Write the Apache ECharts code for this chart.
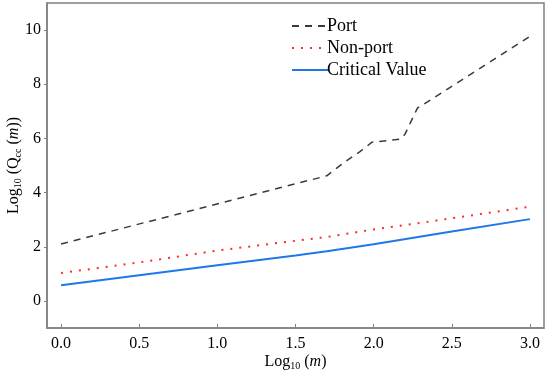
<!DOCTYPE html>
<html>
<head>
<meta charset="utf-8">
<script src="https://cdn.jsdelivr.net/npm/echarts@6/dist/echarts.min.js"></script>
<style>html,body{margin:0;padding:0;background:#fff}#c{width:550px;height:375px}</style>
</head>
<body>
<div id="c"></div>
<script>
// Data
const portX = [0, 1.7, 1.82, 1.91, 1.99, 2.17, 2.2, 2.28, 2.37, 2.88, 3.0];
const portY = [2.1, 4.62, 5.15, 5.5, 5.86, 5.97, 6.15, 7.12, 7.44, 9.33, 9.77];
const nonPortX = [0, 0.5, 1.0, 1.5, 1.7, 2.0, 2.5, 3.0];
const nonPortY = [1.03, 1.42, 1.86, 2.22, 2.36, 2.64, 3.05, 3.48];
const critX = [0, 0.5, 1.0, 1.5, 1.7, 2.0, 2.5, 3.0];
const critY = [0.58, 0.95, 1.32, 1.68, 1.83, 2.09, 2.56, 3.02];
const xTicks = [0, 0.5, 1.0, 1.5, 2.0, 2.5, 3.0];
const yTicks = [0, 2, 4, 6, 8, 10];
const seriesNames = ['Port', 'Non-port', 'Critical Value'];

const zip = (xs, ys) => xs.map((x, i) => [x, ys[i]]);
const font = "Liberation Serif";
const axisGray = '#808080';

const chart = echarts.init(document.getElementById('c'), null, {renderer: 'canvas'});
chart.setOption({
  animation: false,
  textStyle: {fontFamily: font},
  grid: {left: 47, right: 6, top: 3, bottom: 47, outerBoundsMode: 'none', containLabel: false,
         show: true, borderColor: axisGray, borderWidth: 1.5, backgroundColor: 'transparent'},
  legend: {
    orient: 'vertical', left: 286, top: 12, itemWidth: 36, itemHeight: 14, itemGap: 4,
    itemStyle: {opacity: 0},
    textStyle: {fontFamily: font, fontSize: 18, color: '#000', padding: [0, 0, 0, -6]},
    data: seriesNames
  },
  xAxis: {
    type: 'value', min: -0.09, max: 3.09,
    name: 'Log{s|10} ({i|m})', nameLocation: 'middle', nameGap: 24, nameMoveOverlap: false,
    nameTextStyle: {fontFamily: font, fontSize: 16, color: '#000',
      rich: {s: {fontFamily: font, fontSize: 10, padding: [9, 0, 0, 0]}, i: {fontFamily: font, fontSize: 16, fontStyle: 'italic'}}},
    axisLine: {show: true, onZero: false, lineStyle: {color: axisGray, width: 1.5}},
    axisTick: {show: true, inside: true, length: 4, customValues: xTicks, lineStyle: {color: axisGray}},
    axisLabel: {customValues: xTicks, fontFamily: font, fontSize: 16, color: '#000', margin: 8, formatter: v => v.toFixed(1)},
    splitLine: {show: false}
  },
  yAxis: {
    type: 'value', min: -1, max: 11,
    name: 'Log{s|10} (Q{s|cc} ({i|m}))', nameLocation: 'middle', nameGap: 24, nameMoveOverlap: false,
    nameTextStyle: {fontFamily: font, fontSize: 16, color: '#000',
      rich: {s: {fontFamily: font, fontSize: 10, padding: [9, 0, 0, 0]}, i: {fontFamily: font, fontSize: 16, fontStyle: 'italic'}}},
    axisLine: {show: true, onZero: false, lineStyle: {color: axisGray, width: 1.5}},
    axisTick: {show: true, inside: false, length: 3, customValues: yTicks, lineStyle: {color: axisGray}},
    axisLabel: {customValues: yTicks, fontFamily: font, fontSize: 16, color: '#000', margin: 6},
    splitLine: {show: false}
  },
  series: [
    {name: seriesNames[0], type: 'line', symbol: 'none', data: zip(portX, portY), color: '#3a3a3a',
     lineStyle: {color: '#3a3a3a', width: 1.5, type: [7, 6]}},
    {name: seriesNames[1], type: 'line', symbol: 'none', data: zip(nonPortX, nonPortY), color: '#ff2a2a',
     lineStyle: {color: '#ff2a2a', width: 2, type: [2, 7]}},
    {name: seriesNames[2], type: 'line', symbol: 'none', data: zip(critX, critY), color: '#1f78e6',
     lineStyle: {color: '#1f78e6', width: 2}}
  ]
});
</script>
</body>
</html>
